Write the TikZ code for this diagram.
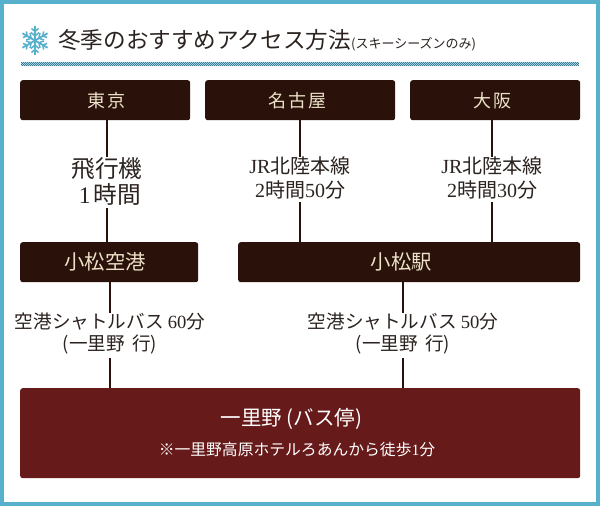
\documentclass[tikz,border=0pt]{standalone}
\usepackage{fontspec}
\setmainfont{Noto Sans CJK JP}
\newfontfamily\latinface{Liberation Serif}
\newcommand{\lat}[1]{{\latinface #1}}
\newcommand{\fs}[2]{\fontsize{#1}{#2}\selectfont}
\definecolor{frameblue}{HTML}{57B0CC}
\definecolor{boxbrown}{HTML}{2A120B}
\definecolor{wine}{HTML}{661A1A}
\definecolor{cream}{HTML}{EDE2C8}
\definecolor{inkdark}{HTML}{2B2320}
\tikzset{
  x=1pt,y=-1pt,
  stationbox/.style={fill=boxbrown,rounded corners=2.5pt,text=cream,inner sep=0pt,anchor=north west,font=\fs{18}{20}},
  hubbox/.style={stationbox,font=\fs{20.3}{24}},
  routelabel/.style={text=inkdark,inner sep=0pt,align=center},
  link/.style={draw=boxbrown,line width=1.4pt},
  flake/.style={draw=frameblue,line width=1.8pt},
}
\begin{document}
\begin{tikzpicture}
\useasboundingbox (0,0) rectangle (600,506);
\fill[white] (0,0) rectangle (600,506);
\draw[frameblue,line width=4pt] (2,2) rectangle (598,504);
% snowflake
\foreach \a in {90,150,210,270,330,30}{
  \begin{scope}[shift={(35,40.5)},rotate=\a]
    \draw[flake] (0,0) -- (14.5,0);
    \draw[flake,line width=1.5pt] (8,-4) -- (4.5,0) -- (8,4);
    \draw[flake,line width=1.5pt] (12,-3.5) -- (9,0) -- (12,3.5);
  \end{scope}
}
% title
\node[text=inkdark,inner sep=0pt,anchor=west,font=\fs{22.6}{26}] (title) at (58,40) {冬季のおすすめアクセス方法};
\node[text=inkdark,inner sep=0pt,anchor=west,font=\fs{13}{14}] (subtitle) at (351,44) {(スキーシーズンのみ)};
% checkered rule
\fill[frameblue!55!white] (21,62) rectangle (579,66);
\draw[frameblue!70!black,line width=1pt,dash pattern=on 1pt off 1pt] (21,62.5) -- (579,62.5);
\draw[frameblue!70!black,line width=1pt,dash pattern=on 1pt off 1pt,dash phase=1pt] (21,63.5) -- (579,63.5);
\draw[frameblue!70!black,line width=1pt,dash pattern=on 1pt off 1pt] (21,64.5) -- (579,64.5);
\draw[frameblue!70!black,line width=1pt,dash pattern=on 1pt off 1pt,dash phase=1pt] (21,65.5) -- (579,65.5);
% boxes
\node[stationbox,minimum width=170pt,minimum height=40pt] (tokyo) at (20,80) {\hspace*{3pt}東\hspace{2pt}京};
\node[stationbox,minimum width=190pt,minimum height=40pt] (nagoya) at (205,80) {名\hspace{2pt}古\hspace{2pt}屋\hspace*{6pt}};
\node[stationbox,minimum width=170pt,minimum height=40pt] (osaka) at (410,80) {大\hspace{2pt}阪\hspace*{5pt}};
\node[hubbox,minimum width=178pt,minimum height=40pt] (airport) at (20,242) {小松空港\hspace*{8pt}};
\node[hubbox,minimum width=342pt,minimum height=40pt] (station) at (238,242) {小松駅\hspace*{16pt}};
\node[fill=wine,rounded corners=2.5pt,inner sep=0pt,anchor=north west,minimum width=560pt,minimum height=90pt] (ichirino) at (20,388) {};
\node[text=white,inner sep=0pt,font=\fs{20.5}{24}] (destname) at (291.5,419) {一里野 (バス停)};
\node[text=white,inner sep=0pt,font=\fs{15.8}{18}] (destnote) at (297,450) {※一里野高原ホテルろあんから徒歩\lat{1}分};
% route labels
\node[routelabel,font=\fs{23.7}{26}] (flight) at (107,181) {飛行機\\\hspace*{6pt}\lat{1}\hspace{3pt}時間};
\node[routelabel,font=\fs{20}{24}] (jrn) at (300,178) {\lat{JR}北陸本線\\\lat{2}時間\lat{50}分};
\node[routelabel,font=\fs{20}{24}] (jro) at (492,178) {\lat{JR}北陸本線\\\lat{2}時間\lat{30}分};
\node[routelabel,font=\fs{18.6}{22}] (busa) at (110,334) {空港シャトルバス \lat{60}分\\(一里野\hspace{3pt} 行)};
\node[routelabel,font=\fs{18.6}{22}] (buss) at (403,334) {空港シャトルバス \lat{50}分\\(一里野\hspace{3pt} 行)};
% connectors
\path[link] (tokyo.south -| flight) -- (flight.north);
\path[link,shorten <=3pt] (flight.south) -- (airport.north -| flight);
\path[link] (nagoya.south -| jrn) -- (jrn.north);
\path[link,shorten <=3pt] (jrn.south) -- (station.north -| jrn);
\path[link] (osaka.south -| jro) -- (jro.north);
\path[link,shorten <=3pt] (jro.south) -- (station.north -| jro);
\path[link] (airport.south -| busa) -- (busa.north);
\path[link,shorten <=3pt] (busa.south) -- (ichirino.north -| busa);
\path[link] (station.south -| buss) -- (buss.north);
\path[link,shorten <=3pt] (buss.south) -- (ichirino.north -| buss);
\end{tikzpicture}
\end{document}
